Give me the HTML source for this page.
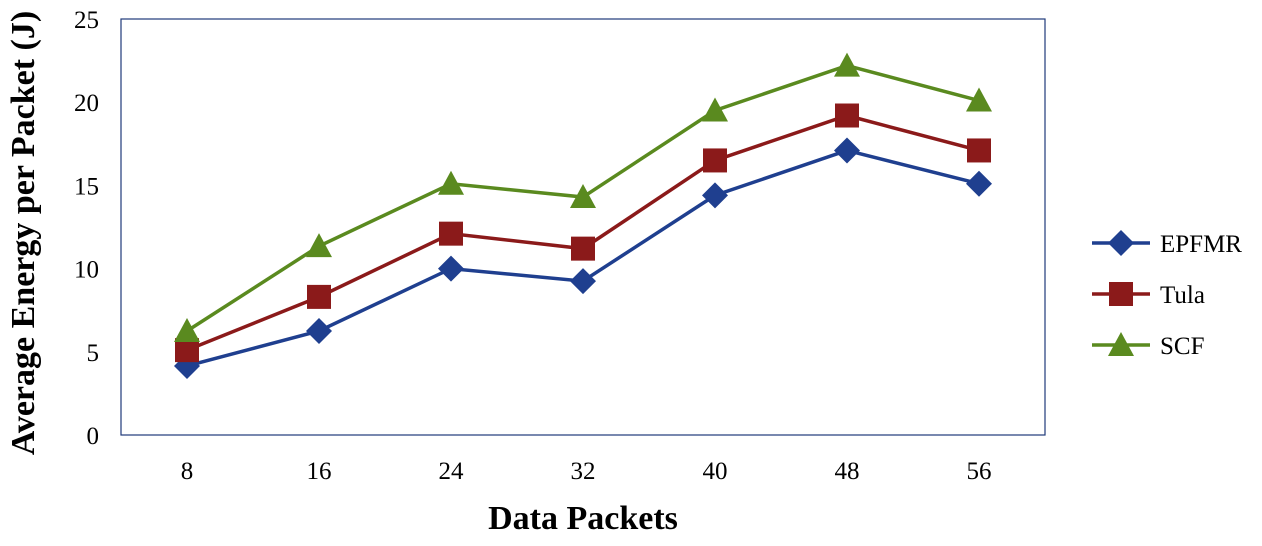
<!DOCTYPE html>
<html><head><meta charset="utf-8"><style>
body{margin:0;background:#fff;}
svg text{font-family:"Liberation Serif",serif;}
</style></head><body>
<svg width="1262" height="541" id="chart">
<rect x="121" y="19" width="924" height="416" fill="none" stroke="#1F3A7A" stroke-width="1.2"/>
<g id="yticks"></g><g id="xticks"></g><g id="series"></g><g id="legend"></g>
<text x="583" y="529" text-anchor="middle" font-size="34" font-weight="bold">Data Packets</text>
<text transform="translate(34,233) rotate(-90)" text-anchor="middle" font-size="34" font-weight="bold">Average Energy per Packet (J)</text>
</svg>
<script>
const categories=["8","16","24","32","40","48","56"];
const yTicks=[0,5,10,15,20,25];
const seriesNames=["EPFMR","Tula","SCF"];
const epfmr=[4.15,6.25,10.0,9.25,14.4,17.1,15.1];
const tula=[5.1,8.3,12.1,11.2,16.5,19.2,17.1];
const scf=[6.25,11.35,15.1,14.3,19.5,22.2,20.1];
const colors=["#1F3F8F","#8B1A1A","#5A8A1F"];
const NS="http://www.w3.org/2000/svg";
const x0=121,w=924,yTop=19,yBot=435,yMax=25;
const xs=i=>x0+w/categories.length*(i+0.5);
const ys=v=>yBot-(v/yMax)*(yBot-yTop);
function mk(t,a,p){const e=document.createElementNS(NS,t);for(const k in a)e.setAttribute(k,a[k]);p.appendChild(e);return e;}
const yg=document.getElementById('yticks');
yTicks.forEach(v=>{const t=mk('text',{x:99,y:ys(v)+9,'text-anchor':'end','font-size':25},yg);t.textContent=v;

});
const xg=document.getElementById('xticks');
categories.forEach((c,i)=>{const t=mk('text',{x:xs(i),y:479,'text-anchor':'middle','font-size':25},xg);t.textContent=c;

});
function marker(k,cx,cy,col,p){
 if(k===0)return mk('polygon',{points:`${cx},${cy-13} ${cx+13},${cy} ${cx},${cy+13} ${cx-13},${cy}`,fill:col},p);
 if(k===1)return mk('rect',{x:cx-12,y:cy-12,width:24,height:24,fill:col},p);
 return mk('polygon',{points:`${cx},${cy-13} ${cx+13},${cy+11} ${cx-13},${cy+11}`,fill:col},p);
}
const sg=document.getElementById('series');
[epfmr,tula,scf].forEach((d,k)=>{
 const g=mk('g',{},sg);
 
 
 const l=mk('polyline',{points:d.map((v,i)=>xs(i)+','+ys(v)).join(' '),fill:'none',stroke:colors[k],'stroke-width':3.5},g);
 
 
 d.forEach((v,i)=>{const m=marker(k,xs(i),ys(v),colors[k],g);
 
 });
});
const lg=document.getElementById('legend');
seriesNames.forEach((n,k)=>{const y=243+k*51;
 const g=mk('g',{},lg);
 
 
 mk('line',{x1:1092,x2:1150,y1:y,y2:y,stroke:colors[k],'stroke-width':3.5},g);
 marker(k,1121,y,colors[k],g);
 const t=mk('text',{x:1160,y:y+9,'font-size':25},g);t.textContent=n;});
</script>
</body></html>
